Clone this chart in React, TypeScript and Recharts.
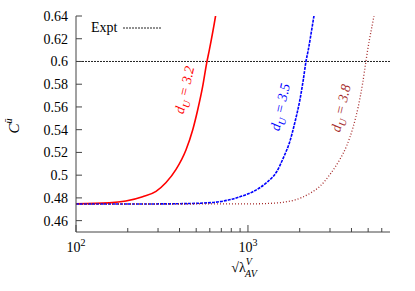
import React from 'react';
import { LineChart, Line, XAxis, YAxis, ReferenceLine, ReferenceDot } from 'recharts';

// d_U = 3.2
const redX = [100, 156, 195, 244, 292, 334, 381, 436, 477, 510, 545, 575, 596, 648, 680];
const redY = [0.4748, 0.4756, 0.4772, 0.481, 0.4858, 0.4935, 0.5048, 0.5221, 0.5397, 0.5573, 0.5778, 0.5984, 0.61, 0.64, 0.66];
// d_U = 3.5
const blueX = [100, 300, 500, 687, 898, 1074, 1284, 1468, 1604, 1755, 1876, 2006, 2097, 2174, 2242, 2420, 2550];
const blueY = [0.4746, 0.4747, 0.4752, 0.4767, 0.481, 0.4856, 0.4935, 0.503, 0.515, 0.53, 0.5466, 0.5665, 0.5837, 0.5998, 0.61, 0.64, 0.66];
// d_U = 3.8
const brownX = [100, 1000, 1343, 1834, 2294, 2622, 2997, 3427, 3749, 4095, 4378, 4644, 4834, 4966, 5403, 5700];
const brownY = [0.4746, 0.4747, 0.4752, 0.4778, 0.484, 0.4902, 0.5006, 0.514, 0.5258, 0.5426, 0.5602, 0.5808, 0.5984, 0.61, 0.64, 0.66];

const EXPT = 0.6;
const xTicks = [100, 200, 300, 400, 500, 600, 700, 800, 900, 1000, 2000, 3000, 4000, 5000, 6000];
const yTicks = [0.46, 0.48, 0.5, 0.52, 0.54, 0.56, 0.58, 0.6, 0.62, 0.64];

// label anchors (data coords) and text
const labels = [
  { x: 425, y: 0.575, value: '3.2', color: '#ff0000' },
  { x: 1530, y: 0.56, value: '3.5', color: '#0000ff' },
  { x: 3450, y: 0.559, value: '3.8', color: '#a52a2a' },
];

const toRows = (xs: number[], ys: number[]) => xs.map((x, i) => ({ x, y: ys[i] }));
const redData = toRows(redX, redY);
const blueData = toRows(blueX, blueY);
const brownData = toRows(brownX, brownY);

const FONT = 'Times New Roman, Liberation Serif, serif';
const AXIS = '#444';

const isMajor = (v: number) => v === 100 || v === 1000;

const BottomTick = (p: any) => {
  const v = p.payload.value;
  const len = isMajor(v) ? 7 : 4;
  return (
    <g>
      <line x1={p.x} y1={p.y} x2={p.x} y2={p.y - len} stroke={AXIS} />
      {isMajor(v) && (
        <text x={p.x} y={p.y + 20} textAnchor="middle" fontSize={14} fontFamily={FONT} fill="#000">
          10<tspan dy={-6} fontSize={10}>{v === 100 ? '2' : '3'}</tspan>
        </text>
      )}
    </g>
  );
};

const TopTick = (p: any) => {
  const v = p.payload.value;
  const len = isMajor(v) ? 7 : 4;
  return <line x1={p.x} y1={p.y} x2={p.x} y2={p.y + len} stroke={AXIS} />;
};

const LeftTick = (p: any) => (
  <g>
    <line x1={p.x} y1={p.y} x2={p.x + 6} y2={p.y} stroke={AXIS} />
    <text x={p.x - 8} y={p.y + 5} textAnchor="end" fontSize={14} fontFamily={FONT} fill="#000">
      {String(p.payload.value)}
    </text>
  </g>
);

const RightTick = (p: any) => <line x1={p.x} y1={p.y} x2={p.x - 6} y2={p.y} stroke={AXIS} />;

const curveLabel = (value: string, color: string) => (p: any) => (
  <text
    transform={`translate(${p.cx},${p.cy}) rotate(-77)`}
    textAnchor="middle"
    dy={5}
    fontSize={14}
    fontStyle="italic"
    fontFamily={FONT}
    fill={color}
  >
    d<tspan dy={4} fontSize={10}>U</tspan>
    <tspan dy={-4}> = {value}</tspan>
  </text>
);

export default function App() {
  return (
    <div style={{ position: 'absolute', left: 0, top: 0, width: 415, height: 291, background: '#fff' }}>
      <LineChart width={415} height={291} margin={{ top: 16, right: 25, bottom: 29, left: 16 }}>
        <XAxis
          dataKey="x"
          type="number"
          scale="log"
          domain={[100, 6700]}
          allowDataOverflow
          ticks={xTicks}
          interval={0}
          tick={BottomTick}
          tickLine={false}
          tickSize={0}
          tickMargin={0}
          height={30}
          stroke={AXIS}
        />
        <XAxis
          xAxisId="top"
          orientation="top"
          dataKey="x"
          type="number"
          scale="log"
          domain={[100, 6700]}
          allowDataOverflow
          ticks={xTicks}
          interval={0}
          tick={TopTick}
          tickLine={false}
          tickSize={0}
          tickMargin={0}
          height={0}
          stroke={AXIS}
        />
        <YAxis
          type="number"
          domain={[0.45, 0.64]}
          allowDataOverflow
          ticks={yTicks}
          interval={0}
          tick={LeftTick}
          tickLine={false}
          tickSize={0}
          tickMargin={0}
          width={60}
          stroke={AXIS}
        />
        <YAxis
          yAxisId="right"
          orientation="right"
          type="number"
          domain={[0.45, 0.64]}
          allowDataOverflow
          ticks={yTicks}
          interval={0}
          tick={RightTick}
          tickLine={false}
          tickSize={0}
          tickMargin={0}
          width={0}
          stroke={AXIS}
        />
        <ReferenceLine y={EXPT} stroke="#222" strokeDasharray="2 1" />
        <Line data={redData} dataKey="y" type="monotone" stroke="#ff0000" strokeWidth={1.6} dot={false} isAnimationActive={false} />
        <Line data={blueData} dataKey="y" type="monotone" stroke="#0000ff" strokeWidth={1.6} strokeDasharray="3 1" dot={false} isAnimationActive={false} />
        <Line data={brownData} dataKey="y" type="monotone" stroke="#a52a2a" strokeWidth={1.3} strokeDasharray="1 2" dot={false} isAnimationActive={false} />
        {labels.map((l) => (
          <ReferenceDot key={l.value} x={l.x} y={l.y} r={0} shape={curveLabel(l.value, l.color)} />
        ))}
      </LineChart>
      <svg width={415} height={291} style={{ position: 'absolute', left: 0, top: 0, pointerEvents: 'none' }}>
        <text x={91} y={32} fontSize={14} fontFamily={FONT} fill="#000">Expt</text>
        <line x1={123} y1={28} x2={161} y2={28} stroke="#222" strokeDasharray="2 1" />
        <text transform="translate(19,126) rotate(-90)" textAnchor="middle" fontSize={15} fontFamily={FONT} fill="#000">
          <tspan fontStyle="italic">C</tspan>
          <tspan dy={-7} fontSize={10} fontStyle="italic">ū</tspan>
        </text>
        <text x={244} y={272} textAnchor="middle" fontSize={14} fontFamily={FONT} fill="#000">
          √λ<tspan dy={-7} fontSize={10} fontStyle="italic">V</tspan>
          <tspan dx={-6} dy={12} fontSize={10} fontStyle="italic">AV</tspan>
        </text>
      </svg>
    </div>
  );
}
